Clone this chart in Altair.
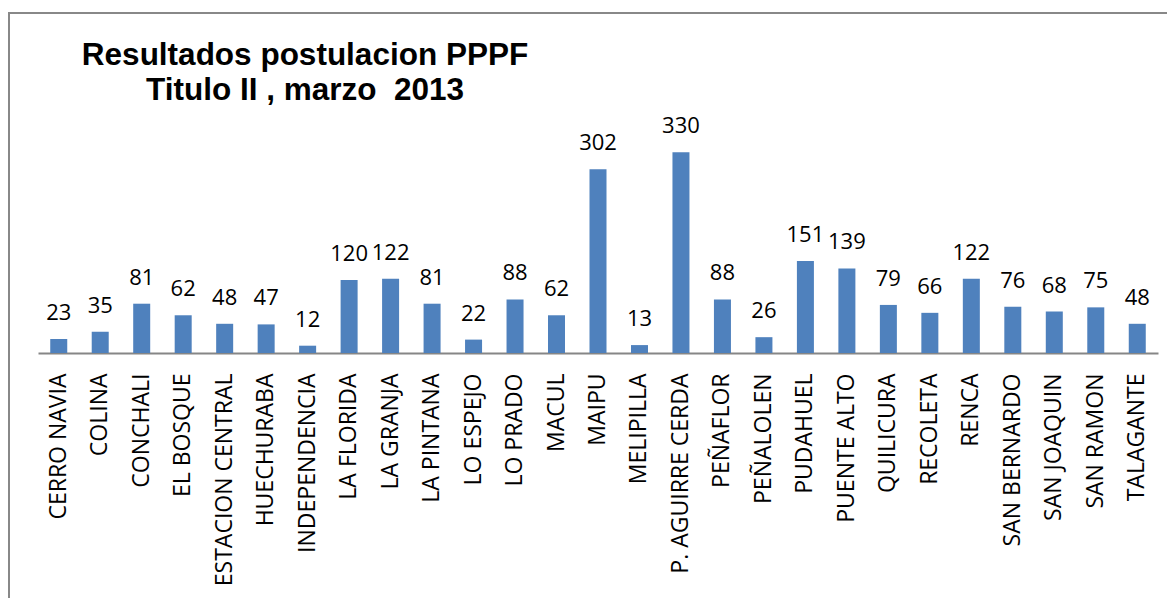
import altair as alt
import pandas as pd

comunas = [
    "CERRO NAVIA", "COLINA", "CONCHALI", "EL BOSQUE", "ESTACION CENTRAL",
    "HUECHURABA", "INDEPENDENCIA", "LA FLORIDA", "LA GRANJA", "LA PINTANA",
    "LO ESPEJO", "LO PRADO", "MACUL", "MAIPU", "MELIPILLA",
    "P. AGUIRRE CERDA", "PEÑAFLOR", "PEÑALOLEN", "PUDAHUEL", "PUENTE ALTO",
    "QUILICURA", "RECOLETA", "RENCA", "SAN BERNARDO", "SAN JOAQUIN",
    "SAN RAMON", "TALAGANTE",
]
valores = [23, 35, 81, 62, 48, 47, 12, 120, 122, 81, 22, 88, 62, 302, 13,
           330, 88, 26, 151, 139, 79, 66, 122, 76, 68, 75, 48]

titulo = ["Resultados postulacion PPPF", "Titulo II , marzo\u00a0 2013"]

df = pd.DataFrame({"comuna": comunas, "valor": valores})

x_enc = alt.X(
    "comuna:N",
    sort=comunas,
    scale=alt.Scale(paddingInner=0, paddingOuter=0),
    axis=alt.Axis(
        title=None,
        labelAngle=-90,
        labelFont="Open Sans",
        labelFontSize=23,
        labelColor="black",
        labelPadding=20,
        labelLimit=400,
        labelOverlap=False,
        ticks=False,
        tickSize=0,
        domainColor="#868686",
        domainWidth=2,
        grid=False,
    ),
)
y_enc = alt.Y("valor:Q", scale=alt.Scale(domain=[0, 350]), axis=None)

base = alt.Chart(df)

bars = base.mark_bar(color="#4F81BD", width={"band": 0.41}).encode(x=x_enc, y=y_enc)

labels = base.mark_text(
    font="Open Sans", fontSize=22, color="black", baseline="alphabetic", dy=-19
).encode(x=x_enc, y=y_enc, text="valor:Q")

border = alt.Chart(alt.Data(values=[{}])).mark_rect(
    fill=None, stroke="#888888", strokeWidth=2
).encode(
    x=alt.value(-29), x2=alt.value(1300), y=alt.value(-127), y2=alt.value(800)
)

chart = alt.layer(border, bars, labels).properties(
    width=1120,
    height=213,
    title=alt.TitleParams(
        text=titulo,
        font="Liberation Sans",
        fontSize=31.5,
        fontWeight="bold",
        color="black",
        anchor="start",
        frame="group",
        align="center",
        baseline="bottom",
        dx=267,
        offset=-126.5,
        lineHeight=35,
    ),
    autosize=alt.AutoSizeParams(type="none"),
    padding={"left": 30, "top": 132, "right": 9, "bottom": 245},
).configure_view(stroke=None)

chart.save("out.html", embed_options={"renderer": "svg", "actions": False})
